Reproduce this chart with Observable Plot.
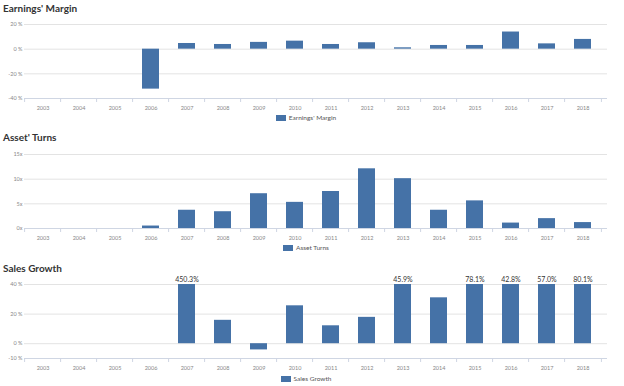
<!DOCTYPE html>
<html>
<head>
<meta charset="utf-8">
<script src="https://cdn.jsdelivr.net/npm/d3@7"></script>
<script src="https://cdn.jsdelivr.net/npm/@observablehq/plot@0.6"></script>
<style>
  html, body { margin: 0; padding: 0; background: #fff; }
  body { width: 624px; height: 386px; position: relative; overflow: hidden; font-family: Lato, "Open Sans", sans-serif; }
  .title { position: absolute; left: 3px; font-weight: 700; font-size: 10px; color: #333; line-height: 12px; white-space: nowrap; }
  .legend { position: absolute; left: 206px; width: 200px; display: flex; justify-content: center; align-items: center; font-size: 6.5px; color: #555; line-height: 8px; }
  .legend .sw { width: 10px; height: 6px; background: #4572a7; margin-right: 3px; }
  .chart { position: absolute; left: 0; }
  .chart svg { display: block; }
</style>
</head>
<body>
<script>
const years = ["2003","2004","2005","2006","2007","2008","2009","2010","2011","2012","2013","2014","2015","2016","2017","2018"];
const earningsMargin = [null, null, null, -32.4, 4.6, 3.8, 5.5, 6.5, 3.8, 5.2, 1.1, 3.0, 3.0, 13.9, 4.3, 7.9];
const assetTurns = [null, null, null, 0.5, 3.7, 3.4, 7.05, 5.3, 7.5, 12.1, 10.1, 3.7, 5.6, 1.1, 2.0, 1.2];
const salesGrowth = [null, null, null, null, 450.3, 15.8, -4.2, 25.6, 12.1, 17.8, 45.9, 31.0, 78.1, 42.8, 57.0, 80.1];

const marginTicks = [-40, -20, 0, 20];
const turnsTicks = [0, 5, 10, 15];
const growthTicks = [-10, 0, 20, 40];

const titles = ["Earnings' Margin", "Asset' Turns", "Sales Growth"];
const legendLabels = ["Earnings' Margin", "Asset Turns", "Sales Growth"];

const barColor = "#4572a7";

function panel({values, domain, ticks, fmt, showCapLabels, title, legend, titleY, svgTop, legendY}) {
  const data = years.map((y, i) => ({year: y, v: values[i]})).filter(d => d.v != null);
  const t = document.createElement("div");
  t.className = "title"; t.style.top = (titleY - 6) + "px"; t.textContent = title;
  document.body.appendChild(t);

  const step = (607 - 18) / years.length;
  const marks = [
    Plot.ruleY(ticks.filter(d => d !== domain[0]), {y: d => d, stroke: "#e3e3e3", strokeWidth: 1}),
    Plot.ruleY([domain[0]], {y: d => d, stroke: "#cfd6e3", strokeWidth: 1}),
    Plot.ruleX(years, {x: d => d, y1: domain[0], y2: domain[0], dx: -step / 2, insetBottom: -4, stroke: "#cfd6e3"}),
    Plot.ruleX([years[years.length - 1]], {x: d => d, y1: domain[0], y2: domain[0], dx: step / 2, insetBottom: -4, stroke: "#cfd6e3"}),
    Plot.barY(data, {x: "year", y: "v", fill: barColor}),
    Plot.axisY({ticks, tickFormat: fmt, tickSize: 0, tickPadding: 2, fontSize: 5.5, fill: "#888", fontFamily: "Lato"}),
    Plot.axisX({tickSize: 0, tickPadding: 8, fontSize: 5.5, fill: "#888", fontFamily: "Lato"})
  ];
  if (showCapLabels) {
    marks.push(Plot.text(data.filter(d => d.v > domain[1]), {x: "year", y: "v", text: d => d.v.toFixed(1) + "%", dy: -5, fontSize: 7, fill: "#333", fontFamily: "Lato"}));
  }
  const svg = Plot.plot({
    width: 624, height: 100,
    marginLeft: 24, marginRight: 17, marginTop: 10, marginBottom: 16,
    x: {type: "band", domain: years, range: [18, 607], paddingInner: 0.52, paddingOuter: 0.26, label: null},
    y: {domain, range: [84, 10], clamp: true, label: null},
    marks
  });
  const c = document.createElement("div");
  c.className = "chart"; c.style.top = svgTop + "px";
  c.appendChild(svg);
  document.body.appendChild(c);

  const lg = document.createElement("div");
  lg.className = "legend"; lg.style.top = (legendY - 4) + "px";
  const sw = document.createElement("div"); sw.className = "sw";
  const tx = document.createElement("span"); tx.textContent = legend;
  lg.appendChild(sw); lg.appendChild(tx);
  document.body.appendChild(lg);
}

panel({values: earningsMargin, domain: [-40, 20], ticks: marginTicks, fmt: d => d + " %", title: titles[0], legend: legendLabels[0], titleY: 8, svgTop: 14, legendY: 118});
panel({values: assetTurns, domain: [0, 15], ticks: turnsTicks, fmt: d => d + "x", title: titles[1], legend: legendLabels[1], titleY: 137, svgTop: 144, legendY: 248});
panel({values: salesGrowth, domain: [-10, 40], ticks: growthTicks, fmt: d => d + " %", showCapLabels: true, title: titles[2], legend: legendLabels[2], titleY: 268, svgTop: 274, legendY: 379});
</script>
</body>
</html>
